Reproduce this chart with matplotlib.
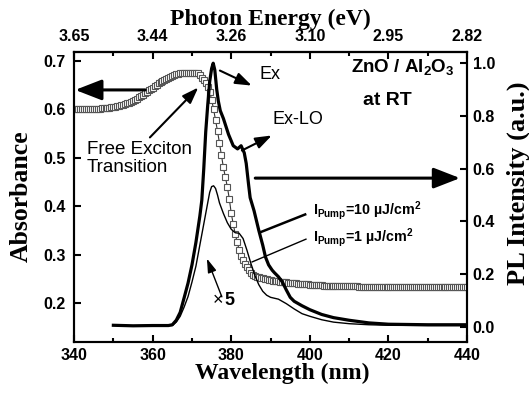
import numpy as np
import matplotlib
matplotlib.use("Agg")
import matplotlib.pyplot as plt

plt.rcParams['font.family'] = ['Liberation Sans', 'DejaVu Sans']
plt.rcParams['mathtext.fontset'] = 'custom'
plt.rcParams['mathtext.rm'] = 'Liberation Sans:bold'
plt.rcParams['mathtext.bf'] = 'Liberation Sans:bold'

# absorbance, 0.5 nm steps from 340 to 440 nm (left axis)
abs_wl = np.arange(340.0, 440.01, 0.5)
absorbance = [
    0.600, 0.600, 0.600, 0.600, 0.600, 0.600, 0.600, 0.600, 0.600, 0.600,
    0.601, 0.601, 0.601, 0.601, 0.602, 0.602, 0.602, 0.603, 0.603, 0.604,
    0.604, 0.605, 0.606, 0.607, 0.608, 0.609, 0.610, 0.612, 0.614, 0.616,
    0.618, 0.620, 0.622, 0.625, 0.627, 0.630, 0.633, 0.636, 0.639, 0.642,
    0.645, 0.648, 0.651, 0.654, 0.656, 0.658, 0.661, 0.663, 0.665, 0.667,
    0.669, 0.670, 0.672, 0.673, 0.674, 0.674, 0.675, 0.675, 0.675, 0.675,
    0.675, 0.675, 0.675, 0.674, 0.670, 0.664, 0.660, 0.655, 0.646, 0.636,
    0.620, 0.600, 0.578, 0.555, 0.530, 0.505, 0.480, 0.460, 0.440, 0.415,
    0.385, 0.363, 0.343, 0.326, 0.310, 0.298, 0.289, 0.281, 0.275, 0.269,
    0.263, 0.259, 0.256, 0.254, 0.253, 0.252, 0.251, 0.250, 0.249, 0.248,
    0.247, 0.246, 0.246, 0.245, 0.245, 0.244, 0.244, 0.243, 0.243, 0.242,
    0.242, 0.241, 0.241, 0.241, 0.240, 0.240, 0.240, 0.239, 0.239, 0.239,
    0.238, 0.238, 0.238, 0.237, 0.237, 0.237, 0.237, 0.236, 0.236, 0.236,
    0.236, 0.236, 0.236, 0.235, 0.235, 0.235, 0.235, 0.235, 0.235, 0.235,
    0.235, 0.235, 0.235, 0.235, 0.235, 0.234, 0.234, 0.234, 0.234, 0.234,
    0.234, 0.234, 0.234, 0.234, 0.234, 0.234, 0.234, 0.234, 0.234, 0.234,
    0.234, 0.234, 0.234, 0.234, 0.234, 0.234, 0.234, 0.234, 0.233, 0.233,
    0.233, 0.233, 0.233, 0.233, 0.233, 0.233, 0.233, 0.233, 0.233, 0.233,
    0.233, 0.233, 0.233, 0.233, 0.233, 0.233, 0.233, 0.233, 0.233, 0.233,
    0.233, 0.233, 0.233, 0.233, 0.233, 0.233, 0.233, 0.233, 0.233, 0.233,
    0.233,
]

# PL, pump 10 uJ/cm2 (right axis)
pl10_wl = [350, 355, 360, 364, 365, 366, 367, 368, 369, 370, 371, 372, 372.5,
           373, 373.5, 374, 374.5, 375, 375.4, 375.8, 376.3, 376.7, 377.2,
           378, 379.3, 380.5, 381.6, 382.5, 383.3, 383.8, 384.4, 384.8, 385.8,
           387, 388, 388.7, 389.5, 390.4, 391, 392, 393, 394, 395, 396, 398,
           400, 403, 406, 410, 415, 420, 430, 440]
pl10 = [0.006, 0.004, 0.005, 0.005, 0.008, 0.025, 0.055, 0.11, 0.166, 0.235,
        0.32, 0.42, 0.48, 0.60, 0.74, 0.84, 0.93, 0.98, 1.0, 0.975, 0.90,
        0.857, 0.82, 0.79, 0.73, 0.687, 0.675, 0.687, 0.66, 0.62, 0.54, 0.49,
        0.44, 0.366, 0.31, 0.265, 0.235, 0.215, 0.205, 0.19, 0.17, 0.14,
        0.112, 0.097, 0.08, 0.065, 0.047, 0.035, 0.025, 0.015, 0.01, 0.008,
        0.008]

# PL, pump 1 uJ/cm2 (x5)
pl1_wl = [350, 355, 360, 365, 366, 367, 368, 369, 370, 371, 372, 373, 374,
          374.5, 375, 375.5, 376, 376.5, 377, 378, 379, 380, 381, 382, 383,
          384, 385, 386, 387, 388, 389, 390, 392, 394, 396, 398, 400, 403,
          406, 410, 415, 420, 430, 440]
pl1 = [0.006, 0.004, 0.005, 0.005, 0.018, 0.04, 0.075, 0.115, 0.17, 0.23,
       0.31, 0.39, 0.47, 0.51, 0.532, 0.535, 0.525, 0.50, 0.47, 0.43, 0.395,
       0.37, 0.357, 0.355, 0.335, 0.29, 0.24, 0.195, 0.16, 0.135, 0.12,
       0.112, 0.105, 0.088, 0.068, 0.05, 0.04, 0.027, 0.018, 0.012, 0.008,
       0.006, 0.005, 0.005]

wl_ticks = [340, 360, 380, 400, 420, 440]
energy_labels = ["%.2f" % (1240.0 / w) for w in wl_ticks]

fig = plt.figure(figsize=(5.29, 3.98), dpi=100)
ax = fig.add_axes([0.140, 0.141, 0.743, 0.728])
ax2 = ax.twinx()

ax.plot(abs_wl, absorbance, color='#333333', lw=0.8, marker='s', ms=3.8,
        mfc='white', mec='#555555', mew=0.8, zorder=3)
ax2.plot(pl10_wl, pl10, color='black', lw=2.3)
ax2.plot(pl1_wl, pl1, color='black', lw=1.0)

ax.set_xlim(340, 440)
ax.set_ylim(0.12, 0.718)
ax2.set_ylim(-0.057, 1.042)
ax.set_xticks(wl_ticks)
ax.set_xticks(np.arange(350, 440, 20), minor=True)
ax.set_yticks([0.2, 0.3, 0.4, 0.5, 0.6, 0.7])
ax2.set_yticks([0.0, 0.2, 0.4, 0.6, 0.8, 1.0])

top = ax.secondary_xaxis('top')
top.set_xticks(wl_ticks)
top.set_xticklabels(energy_labels)
top.set_xticks(np.arange(350, 440, 20), minor=True)

tick_font = dict(family='Liberation Sans', weight='bold', size=11.5)
for a in (ax, ax2, top):
    for lab in a.get_xticklabels() + a.get_yticklabels():
        lab.set_fontproperties(matplotlib.font_manager.FontProperties(**tick_font))
    a.tick_params(which='both', direction='in', width=1.5)
    a.tick_params(which='major', length=5)
    a.tick_params(which='minor', length=3)
    for s in a.spines.values():
        s.set_linewidth(1.5)
ax.tick_params(axis='y', pad=6)
ax.tick_params(axis='x', pad=4.5)
ax2.tick_params(axis='y', pad=4)
top.tick_params(axis='x', pad=5.5)
ax.tick_params(right=False, top=False)

lab_font = dict(family='Liberation Serif', weight='bold')
ax.set_xlabel('Wavelength (nm)', fontsize=17, va='center', **lab_font)
ax.xaxis.set_label_coords(0.53, -0.108)
top.set_xlabel('Photon Energy (eV)', fontsize=17, labelpad=3, **lab_font)
ax.set_ylabel('Absorbance', fontsize=18.5, va='center', **lab_font)
ax.yaxis.set_label_coords(-0.135, 0.503)
ax2.set_ylabel('PL Intensity (a.u.)', fontsize=19, va='center',
               rotation=90, **lab_font)
ax2.yaxis.set_label_coords(1.13, 0.547)

# annotations (left-axis data coords)
big = dict(arrowstyle='-|>,head_length=0.9,head_width=0.35', color='black',
           lw=2.2, mutation_scale=18, shrinkA=0, shrinkB=0)
small = dict(arrowstyle='-|>,head_length=0.7,head_width=0.25', color='black',
             lw=1.5, mutation_scale=14, shrinkA=0, shrinkB=0)
thin = dict(arrowstyle='-|>,head_length=0.7,head_width=0.22', color='black',
            lw=1.0, mutation_scale=12, shrinkA=0, shrinkB=0)

ax.annotate('', xy=(340.3, 0.640), xytext=(358.1, 0.640), arrowprops=big)
ax.annotate('', xy=(438.2, 0.458), xytext=(386.1, 0.458), arrowprops=big)
ax.annotate('', xy=(371.6, 0.645), xytext=(359.3, 0.542), arrowprops=small)
ax.annotate('', xy=(385.2, 0.649), xytext=(377.1, 0.680), arrowprops=small)
ax.annotate('', xy=(390.3, 0.546), xytext=(382.7, 0.515), arrowprops=small)
ax.annotate('', xy=(373.8, 0.292), xytext=(377.6, 0.213), arrowprops=thin)
ax.plot([387.3, 398.8], [0.346, 0.383], color='black', lw=1.8)
ax.plot([385.3, 399.0], [0.285, 0.332], color='black', lw=1.0)

ax.text(343.3, 0.499, 'Free Exciton\nTransition', fontsize=13.5,
        ha='left', va='center', linespacing=1.05)
ax.text(387.1, 0.672, 'Ex', fontsize=13, ha='left', va='center')
ax.text(390.6, 0.579, 'Ex-LO', fontsize=13, ha='left', va='center')
ax.text(423.7, 0.686, r'ZnO / Al$_2$O$_3$', fontsize=13.5, weight='bold',
        ha='center', va='center')
ax.text(419.6, 0.619, 'at RT', fontsize=14, weight='bold',
        ha='center', va='center')
ax.text(400.8, 0.392, r'I$_{\rm Pump}$=10 µJ/cm$^2$', fontsize=10.3,
        weight='bold', ha='left', va='center')
ax.text(400.8, 0.336, r'I$_{\rm Pump}$=1 µJ/cm$^2$', fontsize=10.3,
        weight='bold', ha='left', va='center')
ax.text(375.4, 0.206, '×', fontsize=13, ha='left', va='center')
ax.text(378.3, 0.206, '5', fontsize=13, weight='bold', ha='left', va='center')

fig.savefig('out.png', dpi=100)
